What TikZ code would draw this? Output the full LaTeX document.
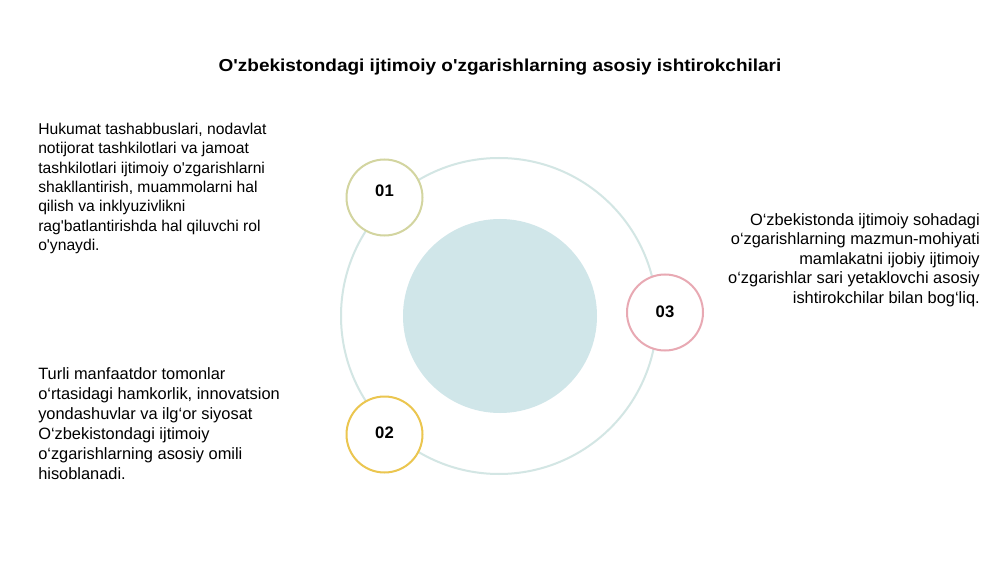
\documentclass[tikz,border=0pt]{standalone}
\usepackage{fontspec}
\setmainfont{Liberation Sans}[Ligatures=TeXOff]
\definecolor{ringc}{HTML}{D3E6E4}
\definecolor{corec}{HTML}{D0E6E9}
\definecolor{onec}{HTML}{D3D5A0}
\definecolor{twoc}{HTML}{EBC650}
\definecolor{threec}{HTML}{E8A9B3}
\begin{document}
\begin{tikzpicture}[x=0.75pt,y=-0.75pt,
  badge/.style={circle, fill=white, line width=1.5pt, minimum size=57pt, inner sep=0pt},
  badgenum/.style={inner sep=0pt, font=\fontsize{12.5pt}{14pt}\selectfont\bfseries},
  bodytext/.style={inner sep=0pt}]
\useasboundingbox[fill=white] (0,0) rectangle (1000,563);
\node[font=\fontsize{13pt}{15pt}\selectfont\bfseries, anchor=base, inner sep=0pt] (title) at (500,72)
  {\scalebox{1.095}[1]{O'zbekistondagi ijtimoiy o'zgarishlarning asosiy ishtirokchilari}};
\node[circle, draw=ringc, line width=1.5pt, minimum size=237pt, inner sep=0pt] (ring) at (499,316) {};
\node[circle, fill=corec, minimum size=145.5pt, inner sep=0pt] (core) at (500,316) {};
\node[badge, draw=onec] (b1) at (384.5,197.5) {};
\node[badge, draw=twoc] (b2) at (384.5,434.5) {};
\node[badge, draw=threec] (b3) at (665,312.5) {};
\node[badgenum] (n1) at (384.5,191) {01};
\node[badgenum] (n2) at (384.5,432.5) {02};
\node[badgenum] (n3) at (665,312) {03};
\node[bodytext, anchor=north west, align=left, font=\fontsize{11.75pt}{14.5pt}\selectfont] (t1) at (38,123)
  {Hukumat tashabbuslari, nodavlat\\notijorat tashkilotlari va jamoat\\tashkilotlari ijtimoiy o'zgarishlarni\\shakllantirish, muammolarni hal\\qilish va inklyuzivlikni\\rag'batlantirishda hal qiluvchi rol\\o'ynaydi.};
\node[bodytext, anchor=north west, align=left, font=\fontsize{12.3pt}{15pt}\selectfont] (t2) at (38,367)
  {Turli manfaatdor tomonlar\\o‘rtasidagi hamkorlik, innovatsion\\yondashuvlar va ilg‘or siyosat\\O‘zbekistondagi ijtimoiy\\o‘zgarishlarning asosiy omili\\hisoblanadi.};
\node[bodytext, anchor=north east, align=right, font=\fontsize{12.3pt}{14.7pt}\selectfont] (t3) at (980,213)
  {O‘zbekistonda ijtimoiy sohadagi\\o‘zgarishlarning mazmun-mohiyati\\mamlakatni ijobiy ijtimoiy\\o‘zgarishlar sari yetaklovchi asosiy\\ishtirokchilar bilan bog‘liq.};
\end{tikzpicture}
\end{document}
